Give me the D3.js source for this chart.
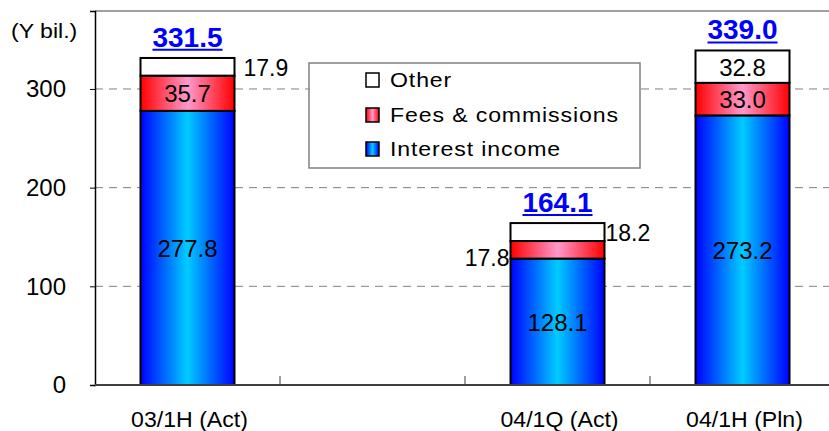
<!DOCTYPE html>
<html>
<head>
<meta charset="UTF-8" />
<title>Revenue breakdown</title>
<script src="https://cdn.jsdelivr.net/npm/d3@7"></script>
<style>
    body { margin: 0; background: #fff; }
    svg text { font-family: "Liberation Sans", Arial, sans-serif; fill: #000; }
</style>
</head>
<body>
<svg id="chart" width="829" height="431"></svg>
<script>
    // data
    var categories = ["03/1H (Act)", "", "04/1Q (Act)", "04/1H (Pln)"];
    var interest = [277.8, null, 128.1, 273.2];
    var fees = [35.7, null, 17.8, 33.0];
    var other = [17.9, null, 18.2, 32.8];
    var totals = [331.5, null, 164.1, 339.0];
    var yTicks = [0, 100, 200, 300];
    var seriesNames = ["Other", "Fees & commissions", "Interest income"];

    var svg = d3.select("#chart");
    var mLeft = 95, mRight = 835, mTop = 11, mBottom = 385;

    var x = d3.scaleBand().domain(d3.range(categories.length)).range([mLeft, mRight]);
    var y = d3.scaleLinear().domain([0, 379]).range([mBottom, mTop]);
    var barW = 94;

    var defs = svg.append("defs");
    function grad(id, edge, mid) {
        var g = defs.append("linearGradient").attr("id", id).attr("x1", "0%").attr("x2", "100%");
        g.append("stop").attr("offset", "0%").attr("stop-color", edge);
        g.append("stop").attr("offset", "50%").attr("stop-color", mid);
        g.append("stop").attr("offset", "100%").attr("stop-color", edge);
    }
    grad("gBlue", "#0000ff", "#00ccff");
    grad("gRed", "#ff0000", "#ff99cc");

    // text slightly wider than the font gives
    function wideText(sel, tx, ty, anchor, size, sx, str) {
        return sel.append("text")
            .attr("transform", "translate(" + tx + "," + ty + ") scale(" + sx + ",1)")
            .attr("text-anchor", anchor).attr("font-size", size).text(str);
    }

    // frame top line
    svg.append("line").attr("x1", mLeft).attr("x2", 829).attr("y1", mTop).attr("y2", mTop)
        .attr("stroke", "#808080").attr("stroke-width", 1.5);

    // grid
    svg.selectAll(".grid").data(yTicks.filter(function (d) { return d > 0; })).enter()
        .append("line")
        .attr("x1", mLeft).attr("x2", 829)
        .attr("y1", function (d) { return y(d); }).attr("y2", function (d) { return y(d); })
        .attr("stroke", "#808080").attr("stroke-width", 1).attr("stroke-dasharray", "8,6");

    // y axis
    var yAxis = d3.axisLeft(y).tickValues(yTicks).tickSize(5).tickPadding(24);
    var ya = svg.append("g").attr("transform", "translate(" + mLeft + ",0)").call(yAxis);
    ya.select(".domain").attr("stroke", "#000").attr("stroke-width", 1.5);
    ya.selectAll("text").attr("font-size", 24).attr("fill", "#000")
        .attr("font-family", "Liberation Sans, Arial, sans-serif");
    ya.selectAll(".tick line").attr("stroke", "#000");

    wideText(svg, 11, 38, "start", 21, 1.1, "(Y bil.)");

    // bars
    var g = svg.append("g");
    categories.forEach(function (c, i) {
        if (interest[i] == null) return;
        var cx = x(i) + x.bandwidth() / 2;
        var x0 = cx - barW / 2;
        var segs = [
            { v0: 0, v1: interest[i], fill: "url(#gBlue)" },
            { v0: interest[i], v1: interest[i] + fees[i], fill: "url(#gRed)" },
            { v0: interest[i] + fees[i], v1: interest[i] + fees[i] + other[i], fill: "#fff" }
        ];
        segs.forEach(function (s) {
            g.append("rect").attr("x", x0).attr("width", barW)
                .attr("y", y(s.v1)).attr("height", y(s.v0) - y(s.v1))
                .attr("fill", s.fill).attr("stroke", "#000").attr("stroke-width", 2);
        });
        // value labels
        g.append("text").attr("x", cx).attr("y", y(interest[i] / 2) + 9)
            .attr("text-anchor", "middle").attr("font-size", 24).text(interest[i].toFixed(1));
        var feeMid = y(interest[i] + fees[i] / 2) + 9;
        var othMid = y(interest[i] + fees[i] + other[i] / 2) + 9;
        if (i === 2) {
            g.append("text").attr("x", x0 - 1).attr("y", feeMid + 7).attr("text-anchor", "end")
                .attr("font-size", 23).text(fees[i].toFixed(1));
            g.append("text").attr("x", x0 + barW + 1).attr("y", othMid).attr("font-size", 23)
                .text(other[i].toFixed(1));
        } else {
            g.append("text").attr("x", cx).attr("y", feeMid).attr("text-anchor", "middle")
                .attr("font-size", 24).text(fees[i].toFixed(1));
            if (i === 0) {
                g.append("text").attr("x", x0 + barW + 9).attr("y", othMid).attr("font-size", 23)
                    .text(other[i].toFixed(1));
            } else {
                g.append("text").attr("x", cx).attr("y", othMid).attr("text-anchor", "middle")
                    .attr("font-size", 24).text(other[i].toFixed(1));
            }
        }
        // total, blue bold underlined
        var ty = y(totals[i]) - 11;
        var tt = g.append("text").attr("x", cx).attr("y", ty)
            .attr("text-anchor", "middle").attr("font-size", 28).attr("font-weight", "bold")
            .style("fill", "#0000ff").text(totals[i].toFixed(1));
        var bb = tt.node().getBBox();
        g.append("line").attr("x1", bb.x).attr("x2", bb.x + bb.width)
            .attr("y1", ty + 3).attr("y2", ty + 3)
            .attr("stroke", "#0000ff").attr("stroke-width", 2);
    });

    // x axis
    var xa = svg.append("g").attr("transform", "translate(0," + mBottom + ")");
    xa.append("line").attr("x1", mLeft).attr("x2", 829).attr("y1", 0).attr("y2", 0)
        .attr("stroke", "#404040").attr("stroke-width", 2);
    xa.selectAll(".xt").data(d3.range(1, categories.length)).enter().append("line")
        .attr("x1", function (d) { return x(d); }).attr("x2", function (d) { return x(d); })
        .attr("y1", 0).attr("y2", -9).attr("stroke", "#404040");
    categories.forEach(function (c, i) {
        if (!c) return;
        wideText(xa, x(i) + x.bandwidth() / 2 + 2, 42, "middle", 22, 1.05, c);
    });

    // legend
    var lg = svg.append("g").attr("transform", "translate(309,63)");
    lg.append("rect").attr("width", 331).attr("height", 105).attr("fill", "#fff")
        .attr("stroke", "#808080").attr("stroke-width", 1.5);
    var lFill = ["#fff", "url(#gRed)", "url(#gBlue)"];
    var lBase = [24, 59, 93];
    seriesNames.forEach(function (n, i) {
        lg.append("rect").attr("x", 57).attr("y", lBase[i] - 14).attr("width", 13).attr("height", 14)
            .attr("fill", lFill[i]).attr("stroke", "#000").attr("stroke-width", 1.5);
        wideText(lg, 81, lBase[i], "start", 21, 1.1, n).attr("letter-spacing", 0.8);
    });
</script>
</body>
</html>
